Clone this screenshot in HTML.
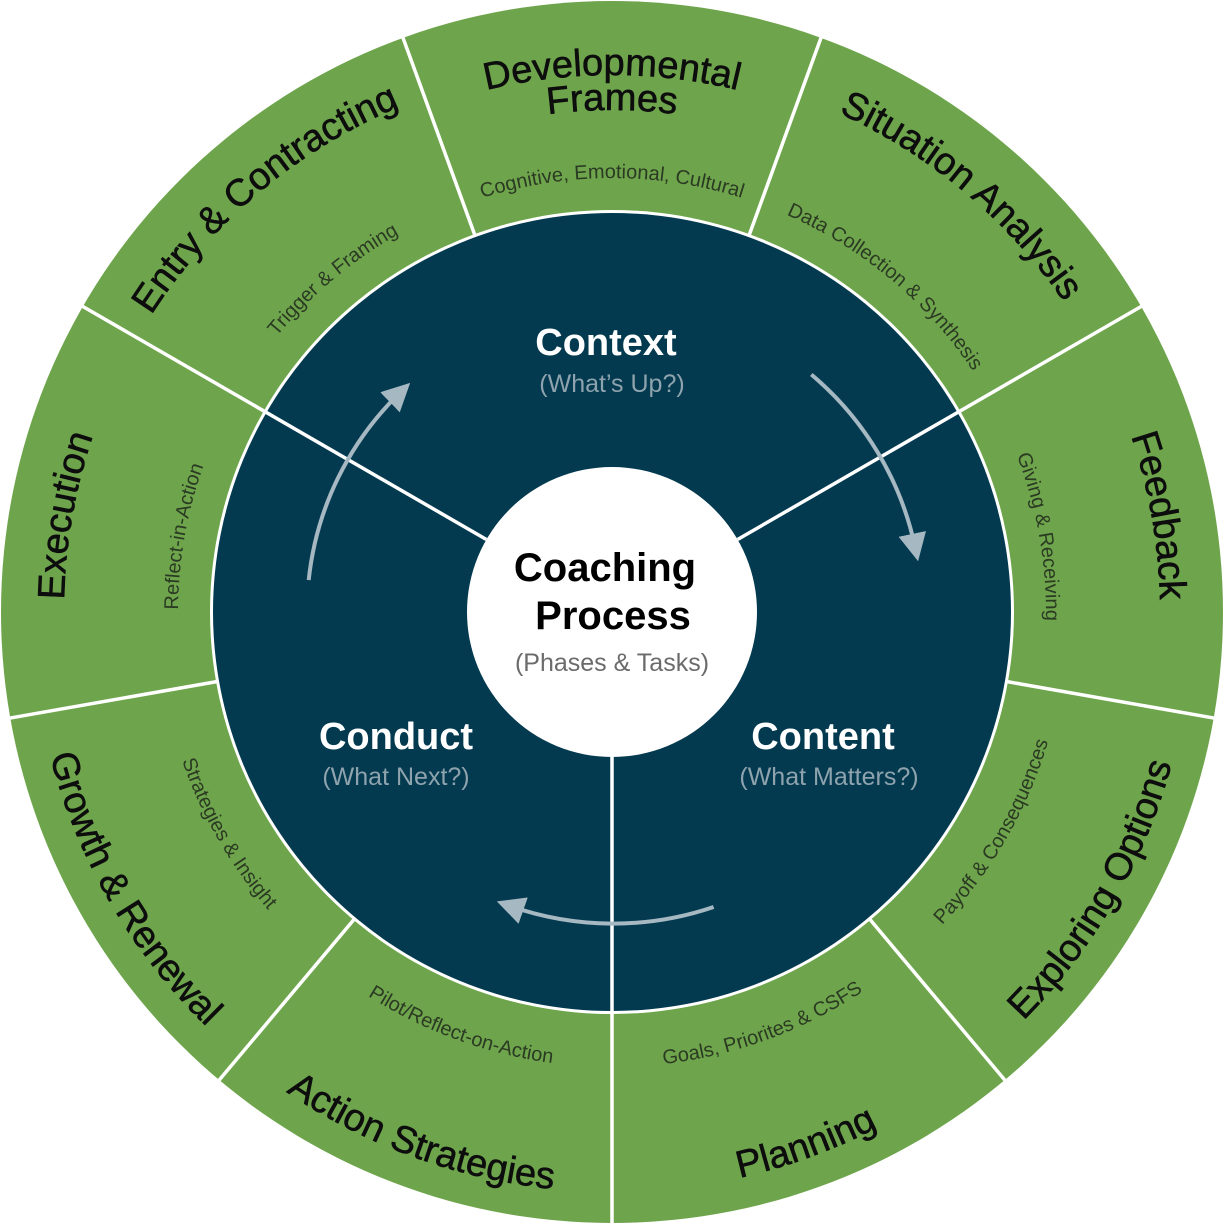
<!DOCTYPE html>
<html><head><meta charset="utf-8"><style>
html,body{margin:0;padding:0;background:#fff;}
svg{display:block;}
.m{font-family:"Liberation Sans",sans-serif;font-size:38px;fill:#0d0d0d;stroke:#0d0d0d;stroke-width:0.6;}
.s{font-family:"Liberation Sans",sans-serif;font-size:20px;fill:#2b3a22;}
</style></head><body>
<svg width="1224" height="1224" viewBox="0 0 1224 1224" xmlns="http://www.w3.org/2000/svg">
<defs>
<path id="tm" d="M137.4,338 A548 548 0 0 1 1086.6,338"/>
<path id="ts" d="M236.2,395 A434 434 0 0 1 987.8,395"/>
<path id="d1" d="M147,343.5 A537 537 0 0 1 1077,343.5"/>
<path id="d2" d="M177.3,361 A502 502 0 0 1 1046.7,361"/>
<path id="bm" d="M109.7,902 A580 580 0 0 0 1114.3,902"/>
<path id="bs" d="M218,839.5 A455 455 0 0 0 1006,839.5"/>
<marker id="ah" viewBox="0 0 10 10" refX="5" refY="5" markerWidth="7" markerHeight="7" orient="auto" markerUnits="strokeWidth">
<path d="M0,0 L10,5 L0,10 z" fill="#a6b8c2"/>
</marker>
</defs>
<circle cx="612" cy="612" r="611" fill="#6ea54c"/>
<circle cx="612" cy="612" r="402" fill="#fff"/>
<circle cx="612" cy="612" r="399" fill="#033a50"/>
<circle cx="612" cy="612" r="145" fill="#fff"/>
<g stroke="#fff" stroke-width="3.5">
<line x1="612" y1="757" x2="612" y2="1224"/>
<line x1="486.4" y1="539.5" x2="82" y2="306"/>
<line x1="737.6" y1="539.5" x2="1142" y2="306"/>
<line x1="748.8" y1="236.1" x2="821.3" y2="37"/>
<line x1="475.2" y1="236.1" x2="402.7" y2="37"/>
<line x1="1005.9" y1="681.4" x2="1214.7" y2="718.2"/>
<line x1="218.1" y1="681.4" x2="9.3" y2="718.2"/>
<line x1="869.1" y1="918.4" x2="1005.4" y2="1080.8"/>
<line x1="354.9" y1="918.4" x2="218.6" y2="1080.8"/>
</g>
<g fill="none" stroke="#a6b8c2" stroke-width="4">
<path d="M308.7,580.1 A305 305 0 0 1 400.1,392.6" marker-end="url(#ah)"/>
<path d="M811.3,374.5 A310 310 0 0 1 915.2,547.6" marker-end="url(#ah)"/>
<path d="M713.6,907 A312 312 0 0 1 510,906" marker-end="url(#ah)"/>
</g>
<text class="m" font-size="35"><textPath href="#d1" startOffset="50%" text-anchor="middle">Developmental</textPath></text>
<text class="m" font-size="35"><textPath href="#d2" startOffset="50%" text-anchor="middle">Frames</textPath></text>
<text class="s"><textPath href="#ts" startOffset="50%" text-anchor="middle">Cognitive, Emotional, Cultural</textPath></text>
<g transform="rotate(40 612 612)">
<text class="m"><textPath href="#tm" startOffset="50%" text-anchor="middle">Situation Analysis</textPath></text>
<text class="s"><textPath href="#ts" startOffset="50%" text-anchor="middle">Data Collection &amp; Synthesis</textPath></text>
</g>
<g transform="rotate(80 612 612)">
<text class="m"><textPath href="#tm" startOffset="50%" text-anchor="middle">Feedback</textPath></text>
<text class="s"><textPath href="#ts" startOffset="50%" text-anchor="middle">Giving &amp; Receiving</textPath></text>
</g>
<g transform="rotate(-80 612 612)">
<text class="m"><textPath href="#tm" startOffset="50%" text-anchor="middle">Execution</textPath></text>
<text class="s"><textPath href="#ts" startOffset="50%" text-anchor="middle">Reflect-in-Action</textPath></text>
</g>
<g transform="rotate(-40 612 612)">
<text class="m"><textPath href="#tm" startOffset="50%" text-anchor="middle">Entry &amp; Contracting</textPath></text>
<text class="s"><textPath href="#ts" startOffset="50%" text-anchor="middle">Trigger &amp; Framing</textPath></text>
</g>
<g transform="rotate(-20 612 612)">
<text class="m"><textPath href="#bm" startOffset="50%" text-anchor="middle">Planning</textPath></text>
<text class="s"><textPath href="#bs" startOffset="50%" text-anchor="middle">Goals, Priorites &amp; CSFS</textPath></text>
</g>
<g transform="rotate(-60 612 612)">
<text class="m"><textPath href="#bm" startOffset="50%" text-anchor="middle">Exploring Options</textPath></text>
<text class="s"><textPath href="#bs" startOffset="50%" text-anchor="middle">Payoff &amp; Consequences</textPath></text>
</g>
<g transform="rotate(20 612 612)">
<text class="m"><textPath href="#bm" startOffset="50%" text-anchor="middle">Action Strategies</textPath></text>
<text class="s"><textPath href="#bs" startOffset="50%" text-anchor="middle">Pilot/Reflect-on-Action</textPath></text>
</g>
<g transform="rotate(60 612 612)">
<text class="m"><textPath href="#bm" startOffset="50%" text-anchor="middle">Growth &amp; Renewal</textPath></text>
<text class="s"><textPath href="#bs" startOffset="50%" text-anchor="middle">Strategies &amp; Insight</textPath></text>
</g>
<g font-family="Liberation Sans, sans-serif" text-anchor="middle">
<text x="606" y="355" font-size="38" font-weight="bold" fill="#fff">Context</text>
<text x="612" y="392" font-size="25" fill="#8ea3ad">(What’s Up?)</text>
<text x="396" y="749" font-size="38" font-weight="bold" fill="#fff">Conduct</text>
<text x="396" y="785" font-size="25" fill="#8ea3ad">(What Next?)</text>
<text x="823" y="749" font-size="38" font-weight="bold" fill="#fff">Content</text>
<text x="829" y="785" font-size="25" fill="#8ea3ad">(What Matters?)</text>
<text x="605" y="581" font-size="40" font-weight="bold" fill="#000">Coaching</text>
<text x="613" y="629" font-size="40" font-weight="bold" fill="#000">Process</text>
<text x="612" y="671" font-size="25" fill="#6b6b6b">(Phases &amp; Tasks)</text>
</g>
</svg>
</body></html>
